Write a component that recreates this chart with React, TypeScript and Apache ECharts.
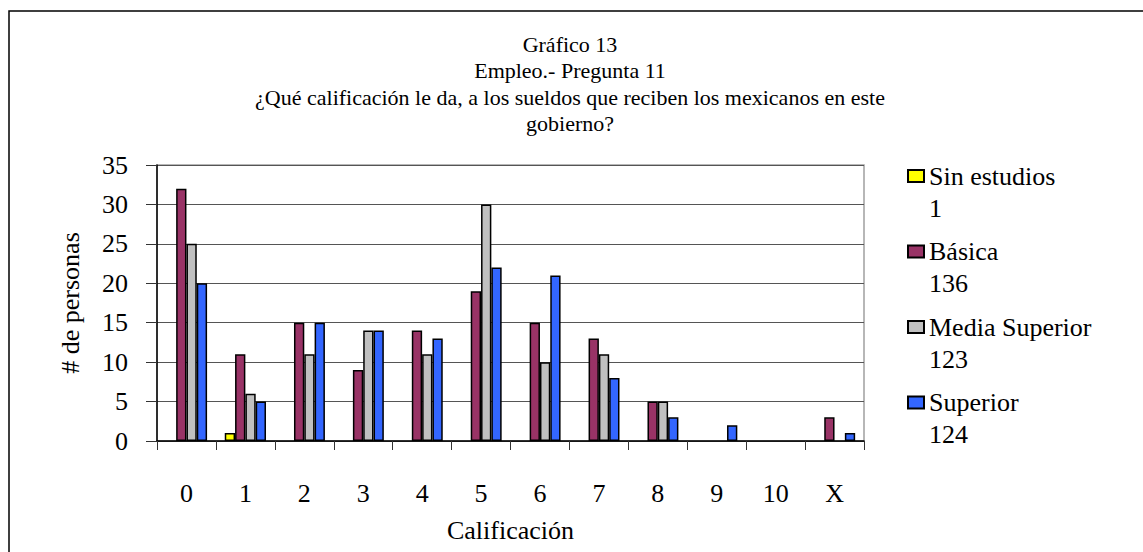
import React, { useEffect, useRef } from "react";
import * as echarts from "echarts";

const categories = ["0", "1", "2", "3", "4", "5", "6", "7", "8", "9", "10", "X"];
const seriesNames = ["Sin estudios", "Básica", "Media Superior", "Superior"];
const sinEstudios = [0, 1, 0, 0, 0, 0, 0, 0, 0, 0, 0, 0];
const basica = [32, 11, 15, 9, 14, 19, 15, 13, 5, 0, 0, 3];
const mediaSuperior = [25, 6, 11, 14, 11, 30, 10, 11, 5, 0, 0, 0];
const superior = [20, 5, 15, 14, 13, 22, 21, 8, 3, 2, 0, 1];
const seriesColors = ["#FFFF00", "#993366", "#C0C0C0", "#3366FF"];
const yTicks = [0, 5, 10, 15, 20, 25, 30, 35];
const titleLines = [
  "Gráfico 13",
  "Empleo.- Pregunta 11",
  "¿Qué calificación le da, a los sueldos que reciben los mexicanos en este",
  "gobierno?",
];

const FONT = "Liberation Serif";

export default function App() {
  const ref = useRef<HTMLDivElement>(null);
  useEffect(() => {
    if (!ref.current) return;
    const chart = echarts.init(ref.current, undefined, { renderer: "svg" });
    const allData = [sinEstudios, basica, mediaSuperior, superior];
    const totals: Record<string, number> = {};
    seriesNames.forEach((n, i) => {
      totals[n] = allData[i].reduce((a, b) => a + b, 0);
    });
    chart.setOption({
      animation: false,
      backgroundColor: "#ffffff",
      textStyle: { fontFamily: FONT },
      title: titleLines.map((line, i) => ({
        text: line,
        left: 570,
        textAlign: "center",
        top: 33 + i * 26.5,
        padding: 0,
        textStyle: {
          fontFamily: FONT,
          fontSize: 22,
          fontWeight: "normal",
          color: "#000",
        },
      })),
      graphic: [
        {
          type: "rect",
          shape: { x: 9, y: 11, width: 1160, height: 600 },
          style: { fill: "none", stroke: "#000", lineWidth: 1.5 },
          silent: true,
          z: 100,
        },
      ],
      legend: {
        orient: "vertical",
        left: 902,
        top: 123,
        itemWidth: 16,
        itemHeight: 12,
        itemGap: -20.5,
        icon: "rect",
        formatter: (name: string) => `\n${name}\n${totals[name]}`,
        textStyle: { fontFamily: FONT, fontSize: 26, lineHeight: 32, color: "#000" },
        data: seriesNames,
      },
      grid: {
        left: 157,
        right: 279,
        top: 165,
        bottom: 111,
        show: true,
        borderColor: "#a0a0a0",
        borderWidth: 1.5,
      },
      xAxis: {
        type: "category",
        data: categories,
        name: "Calificación",
        nameLocation: "middle",
        nameGap: 76,
        nameTextStyle: { fontFamily: FONT, fontSize: 26, color: "#000" },
        axisLine: { show: true, lineStyle: { color: "#000", width: 1.5 } },
        axisTick: { show: true, alignWithLabel: false, length: 9, lineStyle: { color: "#333" } },
        axisLabel: { margin: 39, fontFamily: FONT, fontSize: 26, color: "#000" },
      },
      yAxis: {
        type: "value",
        min: yTicks[0],
        max: yTicks[yTicks.length - 1],
        interval: 5,
        name: "# de personas",
        nameLocation: "middle",
        nameGap: 74,
        nameRotate: 90,
        nameTextStyle: { fontFamily: FONT, fontSize: 26, color: "#000" },
        axisLine: { show: true, lineStyle: { color: "#000", width: 1.5 } },
        axisTick: { show: true, length: 11, lineStyle: { color: "#333" } },
        axisLabel: { margin: 29, fontFamily: FONT, fontSize: 26, color: "#000" },
        splitLine: { show: true, lineStyle: { color: "#555", width: 1.2 } },
      },
      series: seriesNames.map((name, i) => ({
        name,
        type: "bar",
        barGap: "0%",
        barCategoryGap: "30%",
        data: allData[i].map((v) => (v === 0 ? null : v)),
        itemStyle: { color: seriesColors[i], borderColor: "#000", borderWidth: 1.5 },
      })),
    });
    return () => chart.dispose();
  }, []);
  return (
    <div
      ref={ref}
      style={{ position: "absolute", left: 0, top: 0, width: 1143, height: 552 }}
    />
  );
}
